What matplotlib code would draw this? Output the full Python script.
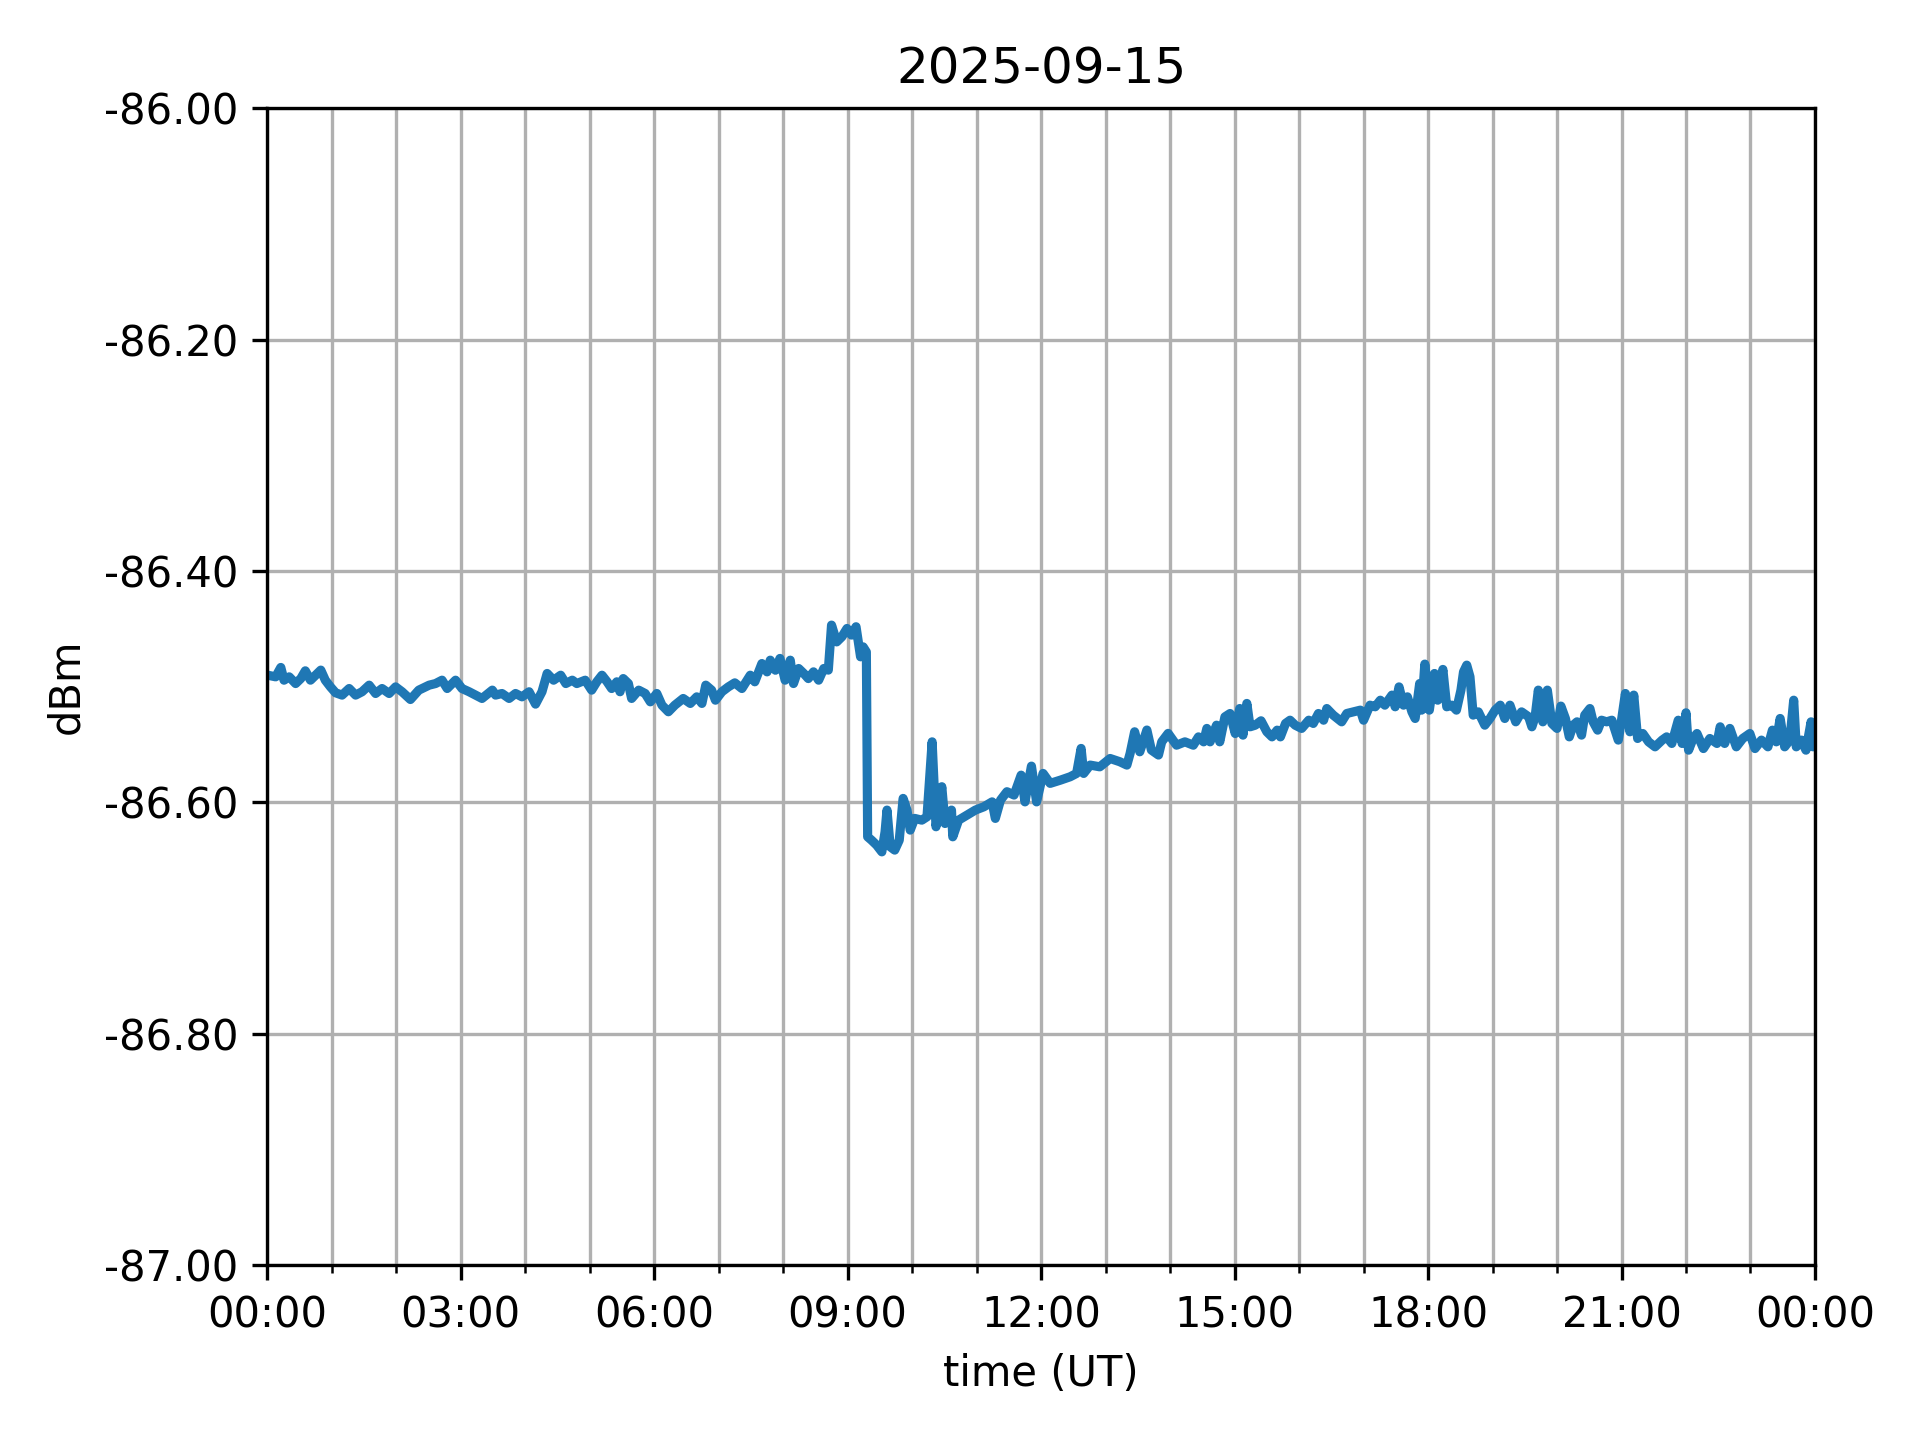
import datetime

import matplotlib
matplotlib.use("Agg")
import matplotlib.pyplot as plt
import matplotlib.dates as mdates
from matplotlib.ticker import FormatStrFormatter


#################################################################
# DATOS
#################################################################

FECHA = datetime.datetime(2025, 9, 15)
TITULO = "2025-09-15"

# horas desde 00:00 UT
horas = [
    0.00, 0.13, 0.21, 0.26, 0.34, 0.44, 0.52, 0.59, 0.67, 0.75, 0.83, 0.90, 0.98,
    1.06, 1.16, 1.27, 1.37, 1.47, 1.58, 1.68, 1.78, 1.89, 1.99, 2.09, 2.22, 2.35,
    2.51, 2.61, 2.71, 2.79, 2.92, 3.02, 3.13, 3.23, 3.33, 3.49, 3.54, 3.64, 3.75,
    3.85, 3.95, 4.06, 4.16, 4.26, 4.34, 4.44, 4.55, 4.63, 4.73, 4.80, 4.93, 5.03,
    5.11, 5.19, 5.27, 5.34, 5.42, 5.47, 5.52, 5.60, 5.65, 5.76, 5.86, 5.94, 6.04,
    6.12, 6.22, 6.32, 6.45, 6.56, 6.66, 6.74, 6.80, 6.89, 6.95, 7.05, 7.15, 7.25,
    7.36, 7.49, 7.56, 7.67, 7.75, 7.80, 7.88, 7.95, 8.03, 8.11, 8.16, 8.24, 8.32,
    8.39, 8.47, 8.55, 8.63, 8.70, 8.75, 8.83, 8.91, 8.99, 9.06, 9.13, 9.20, 9.24,
    9.29, 9.31, 9.37, 9.45, 9.53, 9.58, 9.61, 9.66, 9.73, 9.80, 9.86, 9.92, 9.97,
    10.04, 10.15, 10.23, 10.31, 10.37, 10.46, 10.51, 10.61, 10.63, 10.72, 10.85,
    10.98, 11.11, 11.24, 11.29, 11.37, 11.47, 11.58, 11.69, 11.75, 11.80, 11.85,
    11.93, 12.03, 12.14, 12.30, 12.45, 12.55, 12.62, 12.66, 12.76, 12.91, 13.07,
    13.22, 13.33, 13.38, 13.45, 13.53, 13.64, 13.71, 13.82, 13.87, 13.97, 14.10,
    14.23, 14.36, 14.44, 14.52, 14.57, 14.62, 14.72, 14.77, 14.85, 14.93, 15.01,
    15.08, 15.13, 15.19, 15.24, 15.32, 15.41, 15.50, 15.58, 15.66, 15.71, 15.79,
    15.86, 15.94, 16.04, 16.15, 16.22, 16.30, 16.38, 16.43, 16.53, 16.66, 16.74,
    16.84, 16.95, 17.00, 17.10, 17.18, 17.26, 17.33, 17.44, 17.49, 17.55, 17.62,
    17.68, 17.75, 17.80, 17.87, 17.90, 17.95, 18.02, 18.10, 18.15, 18.23, 18.29,
    18.37, 18.44, 18.51, 18.55, 18.60, 18.65, 18.70, 18.78, 18.88, 18.96, 19.04,
    19.12, 19.19, 19.27, 19.36, 19.45, 19.56, 19.61, 19.66, 19.71, 19.78, 19.85,
    19.92, 20.00, 20.06, 20.13, 20.19, 20.25, 20.31, 20.38, 20.43, 20.51, 20.56,
    20.63, 20.69, 20.77, 20.85, 20.95, 21.00, 21.06, 21.13, 21.19, 21.25, 21.33,
    21.42, 21.52, 21.63, 21.70, 21.78, 21.88, 21.94, 22.00, 22.04, 22.11, 22.17,
    22.27, 22.37, 22.48, 22.53, 22.60, 22.68, 22.78, 22.88, 22.99, 23.07, 23.17,
    23.27, 23.34, 23.40, 23.46, 23.53, 23.61, 23.67, 23.71, 23.79, 23.86, 23.94,
    23.97, 24.00,
]

# potencia medida (dBm)
dbm = [
    -86.4900, -86.4915, -86.4834, -86.4944, -86.4915, -86.4973, -86.4930, -86.4863,
    -86.4944, -86.4901, -86.4857, -86.4944, -86.5002, -86.5053, -86.5073, -86.5016,
    -86.5073, -86.5044, -86.4987, -86.5059, -86.5016, -86.5059, -86.5002, -86.5044,
    -86.5111, -86.5030, -86.4987, -86.4973, -86.4944, -86.5016, -86.4944, -86.5016,
    -86.5044, -86.5073, -86.5102, -86.5030, -86.5073, -86.5059, -86.5102, -86.5059,
    -86.5088, -86.5044, -86.5151, -86.5044, -86.4886, -86.4944, -86.4901, -86.4973,
    -86.4944, -86.4973, -86.4944, -86.5030, -86.4958, -86.4901, -86.4958, -86.5016,
    -86.4958, -86.5044, -86.4930, -86.4973, -86.5102, -86.5030, -86.5059, -86.5131,
    -86.5059, -86.5160, -86.5217, -86.5160, -86.5102, -86.5145, -86.5088, -86.5145,
    -86.4987, -86.5030, -86.5117, -86.5044, -86.5002, -86.4967, -86.5016, -86.4901,
    -86.4958, -86.4800, -86.4872, -86.4771, -86.4858, -86.4756, -86.4944, -86.4771,
    -86.4973, -86.4843, -86.4886, -86.4930, -86.4872, -86.4944, -86.4843, -86.4857,
    -86.4468, -86.4613, -86.4569, -86.4497, -86.4554, -86.4482, -86.4742, -86.4656,
    -86.4700, -86.6298, -86.6327, -86.6370, -86.6428, -86.6255, -86.6067, -86.6384,
    -86.6413, -86.6327, -86.5966, -86.6067, -86.6240, -86.6139, -86.6154, -86.6125,
    -86.5477, -86.6211, -86.5865, -86.6183, -86.6067, -86.6298, -86.6154, -86.6111,
    -86.6067, -86.6039, -86.5996, -86.6139, -86.5981, -86.5908, -86.5937, -86.5765,
    -86.5996, -86.5836, -86.5687, -86.5996, -86.5750, -86.5836, -86.5808, -86.5779,
    -86.5750, -86.5534, -86.5750, -86.5678, -86.5693, -86.5621, -86.5649, -86.5678,
    -86.5577, -86.5390, -86.5563, -86.5375, -86.5548, -86.5591, -86.5477, -86.5404,
    -86.5506, -86.5477, -86.5506, -86.5434, -86.5477, -86.5361, -86.5477, -86.5333,
    -86.5477, -86.5261, -86.5232, -86.5405, -86.5189, -86.5419, -86.5145, -86.5347,
    -86.5333, -86.5295, -86.5390, -86.5434, -86.5376, -86.5434, -86.5318, -86.5290,
    -86.5333, -86.5361, -86.5290, -86.5318, -86.5232, -86.5290, -86.5189, -86.5246,
    -86.5304, -86.5232, -86.5218, -86.5203, -86.5290, -86.5160, -86.5174, -86.5117,
    -86.5160, -86.5073, -86.5174, -86.5002, -86.5160, -86.5088, -86.5218, -86.5275,
    -86.4973, -86.5203, -86.4805, -86.5203, -86.4886, -86.5117, -86.4851, -86.5174,
    -86.5160, -86.5203, -86.5030, -86.4872, -86.4814, -86.4914, -86.5246, -86.5218,
    -86.5333, -86.5275, -86.5203, -86.5160, -86.5275, -86.5160, -86.5304, -86.5218,
    -86.5261, -86.5347, -86.5261, -86.5030, -86.5304, -86.5030, -86.5318, -86.5361,
    -86.5168, -86.5275, -86.5434, -86.5333, -86.5304, -86.5419, -86.5246, -86.5189,
    -86.5304, -86.5376, -86.5290, -86.5304, -86.5290, -86.5462, -86.5290, -86.5059,
    -86.5390, -86.5073, -86.5448, -86.5405, -86.5477, -86.5520, -86.5462, -86.5434,
    -86.5491, -86.5290, -86.5491, -86.5226, -86.5549, -86.5448, -86.5405, -86.5535,
    -86.5448, -86.5491, -86.5347, -86.5491, -86.5361, -86.5520, -86.5448, -86.5405,
    -86.5535, -86.5462, -86.5520, -86.5376, -86.5477, -86.5275, -86.5520, -86.5462,
    -86.5117, -86.5520, -86.5462, -86.5549, -86.5304, -86.5520, -86.5450,
]

Y_MIN = -87.0
Y_MAX = -86.0


#################################################################
# GRAFICO
#################################################################

tiempos = [FECHA + datetime.timedelta(hours=h) for h in horas]

fig = plt.figure(figsize=(6.4, 4.8), dpi=300)
ax = fig.add_subplot(111)
fig.subplots_adjust(left=0.1392, right=0.9453, bottom=0.1215, top=0.9248)

# la serie original es muy densa, se engrosa un poco la linea
ax.plot(tiempos, dbm, color="#1f77b4", linewidth=2.2, solid_joinstyle="round")

ax.set_xlim(FECHA, FECHA + datetime.timedelta(days=1))
ax.set_ylim(Y_MIN, Y_MAX)

ax.xaxis.set_major_locator(mdates.HourLocator(byhour=range(0, 24, 3)))
ax.xaxis.set_minor_locator(mdates.HourLocator())
ax.xaxis.set_major_formatter(mdates.DateFormatter("%H:%M"))
ax.yaxis.set_major_formatter(FormatStrFormatter("%.2f"))

ax.grid(True, which="both", axis="x")
ax.grid(True, which="major", axis="y")

ax.set_title(TITULO)
ax.set_xlabel("time (UT)")
ax.set_ylabel("dBm")

fig.savefig("out.png", dpi=300)
